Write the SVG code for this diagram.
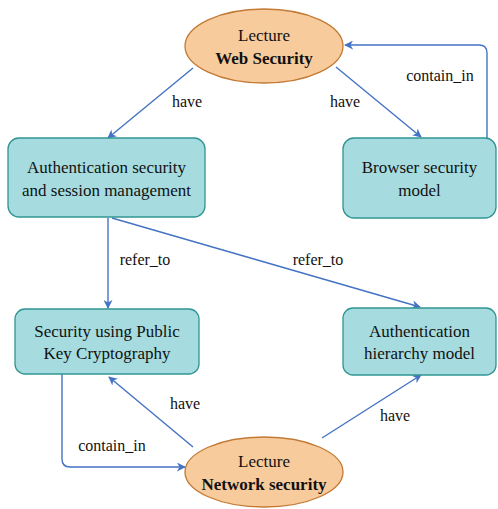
<svg xmlns="http://www.w3.org/2000/svg" width="498" height="509" viewBox="0 0 498 509">
<defs>
<marker id="arr" viewBox="0 0 10 10" refX="9" refY="5" markerWidth="9" markerHeight="9" markerUnits="userSpaceOnUse" orient="auto">
<path d="M0,0 L10,5 L0,10 L3,5 Z" fill="#4472C4"/>
</marker>
<style>
.ell{fill:#F8CB9C;stroke:#C27A35;stroke-width:1.3}
.box{fill:#A6DCDF;stroke:#2F9592;stroke-width:1.3}
text{font-family:'Liberation Serif','Times New Roman',Tinos,'Noto Serif','DejaVu Serif',FreeSerif,serif}
.t{font-size:17px;fill:#111;text-anchor:middle;dominant-baseline:central}
.b{font-weight:bold}
.lbl{font-size:16px;fill:#111;text-anchor:middle;dominant-baseline:central}
.c{fill:none;stroke:#4472C4;stroke-width:1.4;marker-end:url(#arr)}
</style>
</defs>
<rect width="498" height="509" fill="#fff"/>
<g id="connectors">
<path class="c" d="M193,68 L108,138"/>
<path class="c" d="M336,67 L421,137"/>
<path class="c" d="M487,138 L487,53 Q487,45 479,45 L345,45"/>
<path class="c" d="M108,218 L108,308"/>
<path class="c" d="M112,218 L420,307"/>
<path class="c" d="M193,447 L109,377"/>
<path class="c" d="M322,438 L421,375"/>
<path class="c" d="M62,374 L62,459 Q62,467 70,467 L185,467"/>
<text class="lbl" x="187" y="101">have</text>
<text class="lbl" x="345" y="101">have</text>
<text class="lbl" x="440" y="75">contain_in</text>
<text class="lbl" x="145" y="259">refer_to</text>
<text class="lbl" x="318" y="259">refer_to</text>
<text class="lbl" x="185" y="403">have</text>
<text class="lbl" x="395" y="415">have</text>
<text class="lbl" x="112" y="445">contain_in</text>
</g>
<g id="lecture-web">
<ellipse class="ell" cx="264" cy="46" rx="79" ry="37"/>
<text class="t" x="264" y="35">Lecture</text>
<text class="t b" x="264" y="58">Web Security</text>
</g>
<g id="auth-session">
<rect class="box" x="8" y="138" width="197" height="79" rx="11"/>
<text class="t" x="106.5" y="167">Authentication security</text>
<text class="t" x="106.5" y="190">and session management</text>
</g>
<g id="browser-model">
<rect class="box" x="343" y="138" width="153" height="80" rx="11"/>
<text class="t" x="419.5" y="167">Browser security</text>
<text class="t" x="419.5" y="190">model</text>
</g>
<g id="pkc">
<rect class="box" x="15" y="309" width="184" height="65" rx="10"/>
<text class="t" x="107" y="331">Security using Public</text>
<text class="t" x="107" y="353">Key Cryptography</text>
</g>
<g id="auth-hierarchy">
<rect class="box" x="343" y="308" width="153" height="67" rx="10"/>
<text class="t" x="419.5" y="331">Authentication</text>
<text class="t" x="419.5" y="353">hierarchy model</text>
</g>
<g id="lecture-network">
<ellipse class="ell" cx="264" cy="472" rx="79" ry="35"/>
<text class="t" x="264" y="461">Lecture</text>
<text class="t b" x="264" y="484">Network security</text>
</g>
</svg>
